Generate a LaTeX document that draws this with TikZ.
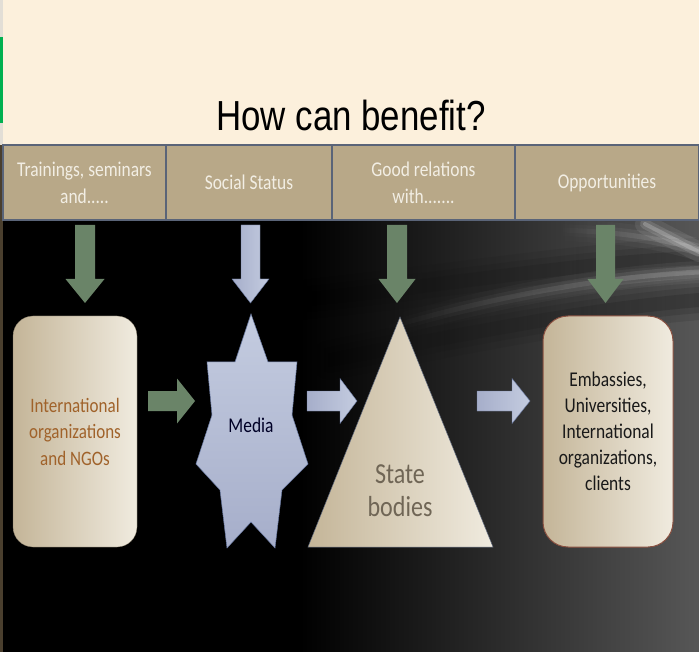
\documentclass[tikz,border=0pt]{standalone}
\usepackage{fontspec}
\usepackage{graphicx}
\setmainfont{Carlito}
\newfontfamily\titlefont{Liberation Sans}
\usetikzlibrary{fadings}
\definecolor{creamtop}{HTML}{FCF0DC}
\definecolor{headtan}{HTML}{B8A888}
\definecolor{slate}{HTML}{5A6478}
\definecolor{headtext}{HTML}{F2EEE4}
\definecolor{arrgreen}{HTML}{6A8468}
\definecolor{bluel}{HTML}{C4CCE0}
\definecolor{blued}{HTML}{A6AECA}
\definecolor{blueedge}{HTML}{6878A0}
\definecolor{tanc}{HTML}{C4B598}
\definecolor{creamc}{HTML}{F0EBDF}
\definecolor{ngotext}{HTML}{A0622A}
\definecolor{statetext}{HTML}{706656}
\definecolor{rboxedge}{HTML}{8A5040}
\definecolor{leftstrip}{HTML}{E2DED6}
\definecolor{greenbar}{HTML}{00B050}
\definecolor{brownedge}{HTML}{4A3F2E}
\newcommand{\hs}[1]{\scalebox{0.83}[1]{#1}}
\newcommand{\darr}[4]{% cx, shaft half, head half, options
  \path[#4] (#1-#2,225) -- (#1+#2,225) -- (#1+#2,279) -- (#1+#3,279)
    -- (#1,303) -- (#1-#3,279) -- (#1-#2,279) -- cycle;}
\newcommand{\rarr}[5]{% x0, xhead, xtip, ymid, options
  \path[#5] (#1,#4-10) -- (#2,#4-10) -- (#2,#4-22.5) -- (#3,#4)
    -- (#2,#4+22.5) -- (#2,#4+10) -- (#1,#4+10) -- cycle;}
\tikzset{
  headcell/.style={draw=slate, line width=1.2pt, fill=headtan, minimum height=75pt,
    text=headtext, font=\fontsize{21}{27}\selectfont, align=center, inner sep=0pt},
  greenfill/.style={fill=arrgreen},
  bluefill/.style={left color=blued, right color=bluel, draw=blueedge, line width=0.4pt},
  boxtext/.style={font=\fontsize{20.5}{26.5}\selectfont, align=center},
  streak/.style={line cap=round, path fading=west},
}
\begin{document}
\begin{tikzpicture}[x=1pt,y=-1pt]
\useasboundingbox (0,0) rectangle (699,652);
% top cream area
\fill[creamtop] (0,0) rectangle (699,145);
\fill[leftstrip] (0,0) rectangle (3,145);
\fill[greenbar] (0,37) rectangle (3,123);
% dark background
\fill[black] (3,220) rectangle (699,652);
\shade[left color=black, middle color=black!74, right color=black!66] (300,220) rectangle (699,652);
% soft streaks in the background
\foreach \w/\o in {40/0.10, 26/0.12, 14/0.15}{
  \draw[black, line width=\w pt, opacity=\o, streak]
    (300,300) .. controls (450,285) and (580,262) .. (699,258);
  \draw[black, line width=\w pt, opacity=\o, streak]
    (330,360) .. controls (460,335) and (580,310) .. (699,300);
}
\foreach \w/\o in {22/0.06, 12/0.10, 5/0.16}{
  \draw[white, line width=\w pt, opacity=\o, streak]
    (380,330) .. controls (480,300) and (590,278) .. (699,272);
  \draw[white, line width=\w pt, opacity=\o, streak]
    (560,230) .. controls (620,232) and (660,238) .. (699,250);
}
\foreach \w/\o in {20/0.08, 10/0.12, 4/0.2}{
  \draw[white, line width=\w pt, opacity=\o, line cap=round]
    (645,224) -- (699,252);
}
\fill[brownedge] (0,145) rectangle (3,652);
% title
\node (title) at (351,115) {\titlefont\fontsize{42}{42}\selectfont\hs{How can benefit?}};
% header cells
\node[headcell, minimum width=163pt] (h1) at (84.5,182.5) {\hs{Trainings, seminars}\\\hs{and.....}};
\node[headcell, minimum width=166pt] (h2) at (249,182.5) {\hs{Social Status}};
\node[headcell, minimum width=183pt] (h3) at (423.5,182.5) {\hs{Good relations}\\\hs{with.......}};
\node[headcell, minimum width=184pt] (h4) at (607,182.5) {\hs{Opportunities}};
% down arrows
\darr{85}{10}{19.5}{greenfill}
\darr{250.5}{9.5}{18.5}{bluefill}
\darr{397}{10}{18.5}{greenfill}
\darr{605.5}{9.5}{18}{greenfill}
% left box
\node[rounded corners=20pt, minimum width=124pt, minimum height=231pt,
  left color=tanc, middle color=tanc!85!creamc, right color=creamc, draw=tanc!60!black, line width=0.3pt,
  boxtext, text=ngotext] (ngo) at (75,431.5)
  {\hs{International}\\\hs{organizations}\\\hs{and NGOs}};
% media star
\path[top color=bluel, bottom color=blued, draw=blueedge, line width=0.5pt]
  (251,314) -- (268,362) -- (297,362) -- (292,415) -- (308,464) -- (282,490)
  -- (275,548) -- (251,522) -- (227,548) -- (220,490) -- (196,464) -- (212,415)
  -- (207,362) -- (235,362) -- cycle;
\node[font=\fontsize{21}{26}\selectfont, text=black!85!blue] (media) at (251,425) {\hs{Media}};
% state bodies triangle
\path[left color=tanc, middle color=tanc!90!creamc, right color=creamc, draw=slate, line width=0.5pt]
  (400,317) -- (493,547) -- (308,547) -- cycle;
\node[font=\fontsize{29}{33.5}\selectfont, text=statetext, align=center] (state) at (400,490.5)
  {\hs{State}\\\hs{bodies}};
% right box
\node[rounded corners=25pt, minimum width=130pt, minimum height=231pt,
  left color=tanc, middle color=tanc!85!creamc, right color=creamc, draw=rboxedge, line width=1pt,
  boxtext, font=\fontsize{21}{26}\selectfont, text=black!90] (emb) at (608,431.5)
  {\hs{Embassies,}\\\hs{Universities,}\\\hs{International}\\\hs{organizations,}\\\hs{clients}};
% right arrows
\rarr{148}{177}{195}{401}{greenfill}
\rarr{307}{340}{357}{401}{bluefill}
\rarr{477}{512}{530}{401}{bluefill}
\end{tikzpicture}
\end{document}
